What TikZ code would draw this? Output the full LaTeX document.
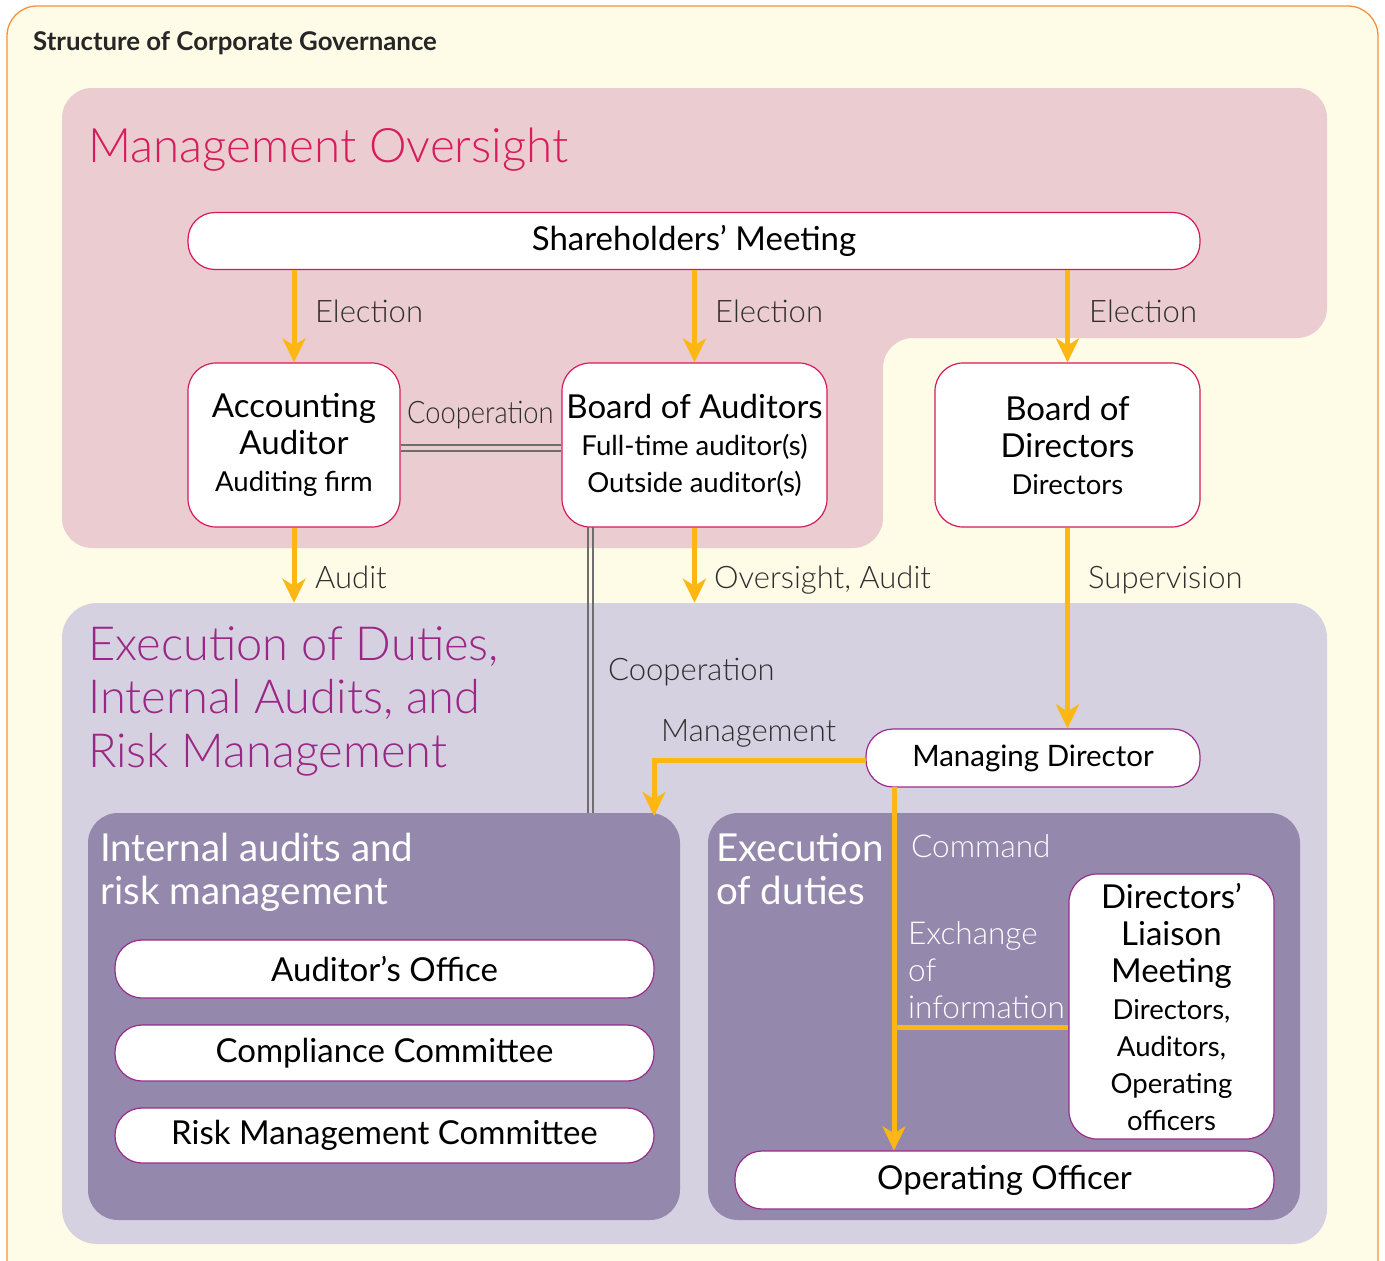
\documentclass[tikz,border=0pt]{standalone}
\usepackage{fontspec}
\usepackage{graphicx}
\setmainfont{Lato}
\newfontfamily\lightfont{Lato Light}
\usetikzlibrary{arrows.meta,positioning,calc}

\definecolor{cream}{HTML}{FEFBE7}
\definecolor{frameorange}{HTML}{F7913D}
\definecolor{pinkbg}{HTML}{EBCDD1}
\definecolor{pinktitle}{HTML}{D81B5C}
\definecolor{pinkline}{HTML}{D6195B}
\definecolor{lavender}{HTML}{D5D1E0}
\definecolor{purplebox}{HTML}{9489AD}
\definecolor{purpletitle}{HTML}{9B2686}
\definecolor{purpleline}{HTML}{9A2A8C}
\definecolor{arrowyel}{HTML}{FDB714}
\definecolor{coopgray}{HTML}{6E6E6E}
\definecolor{labelgray}{HTML}{2E2E2E}

\newcommand{\bigtxt}{\fontsize{33}{37}\selectfont}
\newcommand{\smalltxt}{\fontsize{27.5}{37}\selectfont}

\tikzset{
	region/.style={rounded corners=#1, inner sep=0pt, draw=none},
	pill/.style={draw=#1, fill=white, line width=1.2pt, rounded corners=27pt,
		inner sep=2pt, align=center, text=black, font=\fontsize{33}{36}\selectfont},
	orgbox/.style={draw=#1, fill=white, line width=1.2pt, rounded corners=28pt,
		inner sep=2pt, align=center, text=black, font=\bigtxt},
	yarrow/.style={draw=arrowyel, line width=5pt,
		-{Stealth[length=24pt,width=23pt,inset=7pt]}},
	yline/.style={draw=arrowyel, line width=5pt},
	coop/.style={draw=coopgray, line width=2pt},
	lbl/.style={anchor=base west, inner sep=0pt, text=labelgray,
		font=\lightfont\fontsize{31}{37}\selectfont},
	wlbl/.style={lbl, text=white, font=\lightfont\fontsize{31.5}{37}\selectfont},
	areatitle/.style={anchor=north west, inner sep=0pt, align=left}
}

\begin{document}
\begin{tikzpicture}[x=1pt,y=-1pt]
	\useasboundingbox (0,0) rectangle (1385,1261);
	\clip (0,0) rectangle (1385,1261);
	% frame
	\draw[draw=frameorange, line width=1.3pt, fill=cream, rounded corners=30pt]
		(7,6) rectangle (1378,1290);
	\node[anchor=base west, inner sep=0pt, text=black!85,
		font=\fontsize{25.8}{28}\selectfont\bfseries] (title) at (33,50)
		{Structure of Corporate Governance};
	%
	% areas
	\fill[pinkbg, rounded corners=30pt] (62,88) -- (1327,88) -- (1327,338)
		-- (883,338) -- (883,548) -- (62,548) -- cycle;
	\node[areatitle, anchor=base west, text=pinktitle,
		font=\lightfont\fontsize{47.5}{53}\selectfont] (moTitle) at (88,162) {Management Oversight};
	\node[region=35pt, fill=lavender, minimum width=1265pt, minimum height=641pt]
		(execArea) at (694.5,923.5) {};
	\node[region=30pt, fill=purplebox, minimum width=592pt, minimum height=407pt]
		(intBox) at (384,1016.5) {};
	\node[region=30pt, fill=purplebox, minimum width=592pt, minimum height=407pt]
		(dutyBox) at (1004,1016.5) {};
	\node[areatitle, text=purpletitle, font=\lightfont\fontsize{47}{53.5}\selectfont]
		(execTitle) at (88,626) {Execution of Duties,\\Internal Audits, and\\Risk Management};
	\node[areatitle, text=white, font=\fontsize{38.5}{43}\selectfont]
		(intTitle) at (100,833) {Internal audits and\\risk management};
	\node[areatitle, text=white, font=\fontsize{38.5}{43}\selectfont]
		(dutyTitle) at (716,833) {Execution\\of duties};
	%
	% boxes
	\node[pill=pinkline, minimum width=1012pt, minimum height=57pt]
		(share) at (694,241) {Shareholders’ Meeting};
	\node[orgbox=pinkline, minimum width=212pt, minimum height=164pt]
		(accAud) at (294,445) {Accounting\\Auditor\\{\smalltxt Auditing firm}};
	\node[orgbox=pinkline, minimum width=265pt, minimum height=164pt]
		(boardAud) at (694.5,445)
		{Board of Auditors\\{\smalltxt Full-time auditor(s)}\\{\smalltxt Outside auditor(s)}};
	\node[orgbox=pinkline, minimum width=265pt, minimum height=164pt]
		(boardDir) at (1067.5,445) {Board of\\Directors\\{\smalltxt Directors}};
	\node[pill=purpleline, minimum width=334pt, minimum height=58pt,
		font=\fontsize{29.5}{36}\selectfont]
		(manDir) at (1033,758) {Managing Director};
	\node[pill=purpleline, minimum width=539pt, minimum height=58pt]
		(audOffice) at (384.5,969) {Auditor’s Office};
	\node[pill=purpleline, minimum width=539pt, minimum height=56pt]
		(compliance) at (384.5,1053) {Compliance Committee};
	\node[pill=purpleline, minimum width=539pt, minimum height=55pt]
		(riskComm) at (384.5,1135.5) {Risk Management Committee};
	\node[orgbox=purpleline, minimum width=205pt, minimum height=265pt]
		(liaison) at (1171.5,1006.5)
		{Directors’\\Liaison\\Meeting\\{\smalltxt Directors,}\\{\smalltxt Auditors,}\\{\smalltxt Operating}\\{\smalltxt officers}};
	\node[pill=purpleline, minimum width=539pt, minimum height=58pt]
		(opOfficer) at (1004.5,1180) {Operating Officer};
	%
	% connectors
	\foreach \dy in {0.2,5.8}
		\draw[coop] ($(accAud.east)+(0,\dy)$) -- ($(boardAud.west)+(0,\dy)$);
	\coordinate (coopV) at (590.5,527);
	\foreach \dx in {-2.8,2.8}
		\draw[coop] ($(coopV)+(\dx,0)$) -- ($(coopV |- intBox.north)+(\dx,0)$);
	\draw[yarrow] (share.south -| accAud) -- (accAud.north);
	\draw[yarrow] (share.south -| boardAud) -- (boardAud.north);
	\draw[yarrow] (share.south -| boardDir) -- (boardDir.north);
	\draw[yarrow] (accAud.south) -- (accAud.south |- execArea.north);
	\draw[yarrow] (boardAud.south) -- (boardAud.south |- execArea.north);
	\draw[yarrow] (boardDir.south) -- (boardDir.south |- manDir.north);
	\coordinate (mgmtStart) at (866,760);
	\coordinate (mgmtEnd) at (654,816);
	\draw[yarrow] (mgmtStart) -| (mgmtEnd);
	\coordinate (cmdTop) at (894,787);
	\draw[yarrow] (cmdTop) -- (cmdTop |- opOfficer.north);
	\coordinate (xch) at (894,1027);
	\draw[yline] (xch) -- (xch -| liaison.west);
	%
	% labels
	\node[lbl] (elecA) at (315,322) {Election};
	\node[lbl] (elecB) at (715,322) {Election};
	\node[lbl] (elecC) at (1089,322) {Election};
	\node[lbl] (coopH) at (407,423) {\scalebox{0.88}[1]{Cooperation}};
	\node[lbl] (auditLbl) at (315,588) {Audit};
	\node[lbl] (overLbl) at (714,588) {Oversight, Audit};
	\node[lbl] (superLbl) at (1088,588) {Supervision};
	\node[lbl] (coopLbl) at (608,680) {Cooperation};
	\node[lbl] (mgmtLbl) at (661,741) {Management};
	\node[wlbl] (cmdLbl) at (911,857) {Command};
	\node[wlbl, anchor=north west, align=left] (xchLbl) at (908,921)
		{Exchange\\of\\information};
\end{tikzpicture}
\end{document}
